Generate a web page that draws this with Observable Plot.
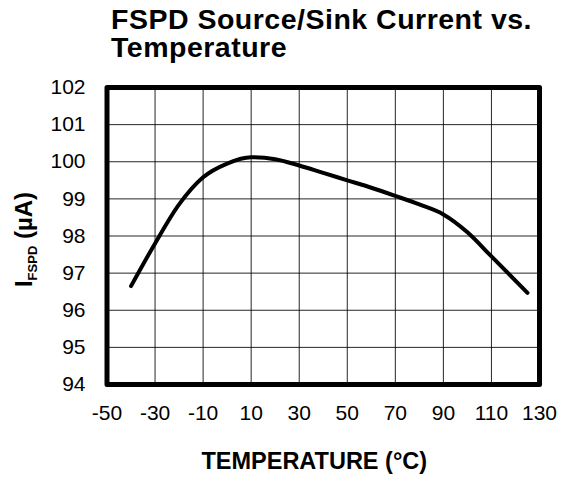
<!DOCTYPE html>
<html><head><meta charset="utf-8">
<script src="https://cdn.jsdelivr.net/npm/d3@7"></script>
<script src="https://cdn.jsdelivr.net/npm/@observablehq/plot@0.6"></script>
<style>
body{margin:0;background:#fff;}
#wrap{position:relative;width:567px;height:479px;font-family:"Liberation Sans",Arial,sans-serif;}
#title{position:absolute;left:111px;top:4.5px;font-size:28.5px;font-weight:bold;line-height:28px;letter-spacing:0.5px;color:#000;white-space:nowrap;}
#wrap svg{position:absolute;left:0;top:0;}
</style></head><body>
<div id="wrap"><div id="title"></div></div>
<script>
const titleLines = ["FSPD Source/Sink Current vs.", "Temperature"];
const temperature = [-40, -30, -20, -10, 0, 10, 20, 30, 40, 50, 60, 70, 80, 90, 100, 110, 125];
const current = [96.65, 97.8, 98.85, 99.58, 99.95, 100.12, 100.07, 99.9, 99.7, 99.5, 99.3, 99.08, 98.85, 98.58, 98.1, 97.45, 96.47];
const xTicks = [-50, -30, -10, 10, 30, 50, 70, 90, 110, 130];
const yTicks = [94, 95, 96, 97, 98, 99, 100, 101, 102];
const xLabel = "TEMPERATURE (°C)";
const yLabelMain = "I";
const yLabelSub = "FSPD";
const yLabelUnit = " (µA)";

const data = temperature.map((t, i) => ({t, c: current[i]}));
const font = '"Liberation Sans", Arial, sans-serif';
const yLabelFull = yLabelMain + yLabelSub + yLabelUnit;

const chart = Plot.plot({
  width: 567, height: 479,
  marginLeft: 106.5, marginRight: 28, marginTop: 87, marginBottom: 95,
  style: {fontFamily: font, fontSize: "21px", color: "#000", background: "transparent"},
  x: {domain: [-50, 130]},
  y: {domain: [94, 102], axis: null},
  marks: [
    Plot.gridX(xTicks, {stroke: "#000", strokeOpacity: 0.85, strokeWidth: 1}),
    Plot.gridY(yTicks, {stroke: "#000", strokeOpacity: 0.85, strokeWidth: 1}),
    Plot.axisX(xTicks, {tickSize: 0, tickPadding: 21, tickFormat: d => String(d), fontSize: 21, label: null}),
    Plot.text(yTicks, {y: d => d, text: d => String(d), frameAnchor: "left", textAnchor: "end", lineAnchor: "middle", dx: -21.5, fontSize: 21, fill: "#000"}),
    Plot.line(data, {x: "t", y: "c", curve: "monotone-x", stroke: "#000", strokeWidth: 4, strokeLinecap: "round", strokeLinejoin: "round"}),
    Plot.frame({stroke: "#000", strokeWidth: 5, strokeLinejoin: "round"}),
    Plot.text([xLabel], {text: d => d, frameAnchor: "bottom", lineAnchor: "middle", textAnchor: "middle", dy: 76.5, dx: -9, fontSize: 23.5, fontWeight: "bold", fill: "#000"}),
    Plot.text([yLabelFull], {text: d => d, frameAnchor: "left", rotate: -90, lineAnchor: "bottom", textAnchor: "middle", dx: -75.5, dy: 3.5, fontSize: 24, fontWeight: "bold", fill: "#000"})
  ]
});

document.getElementById("title").innerHTML = titleLines.join("<br>");
document.getElementById("wrap").appendChild(chart);

d3.select(chart).selectAll("text").filter(function() { return this.textContent === yLabelFull; }).each(function() {
  const t = d3.select(this);
  t.text(null);
  t.append("tspan").text(yLabelMain);
  t.append("tspan").attr("font-size", 13).attr("dy", 5).text(yLabelSub);
  t.append("tspan").attr("dy", -5).text(yLabelUnit);
});
</script>
</body></html>
